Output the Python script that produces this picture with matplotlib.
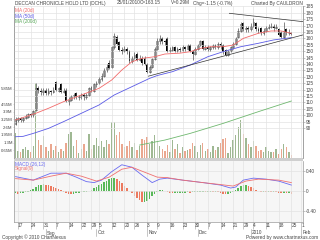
import numpy as np
import pandas as pd
import matplotlib
matplotlib.use('Agg')
import matplotlib.pyplot as plt
from matplotlib.transforms import ScaledTranslation, blended_transform_factory

plt.rcParams['font.family'] = ['Liberation Sans', 'DejaVu Sans']

# ---------------- data ----------------
opens = [93, 96, 98, 96, 98, 99, 101, 100, 104, 121,
         119, 118, 120, 117, 119, 118, 126, 119, 124, 118,
         120, 111, 112, 115, 117, 114, 115, 116, 114, 116,
         122, 119, 124, 125, 128, 131, 135, 141, 138, 153,
         161, 157, 151, 150, 152, 150, 142, 145, 148, 143,
         145, 145, 140, 134, 138, 144, 152, 158, 160, 158,
         160, 150, 151, 153, 150, 152, 151, 153, 152, 155,
         150, 148, 152, 155, 158, 152, 153, 152, 153, 155,
         153, 156, 155, 151, 147, 150, 153, 156, 161, 166,
         172, 167, 168, 167, 170, 172, 167, 168, 164, 166,
         168, 169, 170, 168, 167, 165, 161, 167, 164, 164.3]
highs = [99, 99, 99, 99, 101, 102, 102, 104, 125, 123,
         121, 121, 121, 121, 120, 122, 127, 122, 125, 121,
         121, 114, 116, 117, 118, 116, 117, 117, 117, 122,
         123, 125, 127, 130, 133, 137, 140, 143, 154, 164,
         163, 158, 153, 154, 153, 151, 146, 149, 149, 147,
         146, 146, 141, 139, 145, 153, 160, 163, 161, 159,
         161, 153, 154, 154, 153, 153, 155, 154, 156, 156,
         151, 153, 156, 159, 159, 155, 155, 154, 156, 156,
         157, 157, 156, 152, 151, 154, 157, 161, 168, 173,
         173, 170, 170, 172, 176, 173, 169, 169, 168, 170,
         171, 172, 171, 171, 168, 166, 173, 168, 167, 165]
lows = [92, 95, 95, 95, 97, 98, 99, 99, 103, 117,
        116, 116, 116, 116, 116, 117, 119, 118, 117, 117,
        110, 108, 111, 113, 113, 112, 113, 112, 113, 115,
        118, 118, 122, 124, 127, 130, 134, 136, 137, 152,
        155, 150, 148, 149, 148, 141, 141, 144, 142, 142,
        139, 139, 133, 133, 137, 143, 151, 156, 156, 155,
        149, 149, 150, 149, 149, 149, 150, 150, 151, 149,
        143, 147, 151, 154, 151, 151, 150, 150, 152, 152,
        152, 152, 148, 146, 146, 149, 152, 155, 160, 165,
        166, 165, 165, 166, 169, 166, 164, 163, 163, 165,
        167, 168, 166, 167, 162, 160, 160, 163, 163, 162.5]
closes = [97, 98, 96, 98, 99, 101, 100, 103, 121, 119,
          118, 120, 117, 119, 118, 120, 120, 121, 118, 119,
          111, 112, 115, 116, 114, 115, 116, 114, 116, 121,
          119, 124, 125, 128, 131, 135, 138, 137, 153, 162,
          156, 151, 150, 152, 150, 142, 145, 147, 143, 145,
          141, 140, 134, 138, 144, 152, 158, 160, 158, 157,
          150, 151, 153, 150, 152, 151, 153, 152, 155, 150,
          148, 152, 155, 158, 152, 153, 152, 153, 155, 153,
          156, 154, 149, 147, 150, 153, 156, 160, 166, 171,
          167, 168, 167, 170, 173, 167, 166, 164, 166, 168,
          169, 170, 168, 169, 163, 161, 166, 164, 164.3, 163.15]
volume_m = [2.1, 0.6, 0.5, 0.8, 0.9, 0.7, 0.5, 1.0, 6.3, 1.5,
            1.1, 1.86, 0.9, 0.6, 1.2, 0.7, 1.0, 0.5, 0.8, 0.6,
            1.3, 2.0, 2.2, 1.0, 1.5, 0.4, 0.8, 1.2, 0.6, 2.0,
            0.8, 1.1, 1.7, 1.0, 1.4, 0.9, 1.5, 1.2, 3.0, 3.0,
            1.9, 2.2, 1.2, 0.9, 1.0, 1.4, 0.9, 1.3, 0.7, 1.0,
            1.6, 1.5, 1.8, 1.2, 1.4, 1.9, 1.4, 1.0, 0.8, 0.6,
            1.1, 0.5, 1.5, 0.8, 1.2, 0.4, 0.9, 0.6, 0.7, 0.8,
            1.3, 1.0, 0.5, 1.1, 1.3, 0.6, 0.8, 0.5, 1.0, 0.7,
            0.9, 1.3, 1.6, 1.7, 0.4, 0.9, 1.5, 1.9, 2.6, 3.2,
            2.0, 1.7, 1.2, 0.9, 1.4, 1.0, 0.6, 0.7, 0.5, 0.9,
            0.6, 0.5, 0.5, 0.8, 0.3, 0.8, 1.2, 0.9, 0.5, 0.29]

# moving averages (day index, value)
ma20_idx = [0, 8, 13, 19, 26, 33, 38, 42, 46, 50, 55, 59, 65, 69, 73, 77, 82, 86, 90, 96, 101, 105, 109]
ma20_val = [96.3, 101.5, 105.4, 110.6, 115.8, 121, 127.5, 135.3, 141.8, 144.4, 145.7, 147.8, 148.5,
            149.6, 152.2, 153.5, 153.5, 154.8, 160, 164, 165.8, 165.8, 164]
ma50_idx = [0, 3, 7, 13, 19, 26, 33, 39, 46, 53, 56, 62, 69, 76, 82, 89, 96, 102, 109]
ma50_val = [83.2, 83.5, 85.8, 89.7, 95, 101.5, 108, 115.8, 122.3, 128.8, 131, 134,
            139.2, 145.7, 149.6, 153.5, 156.2, 158.8, 160.6]
ma200_idx = [49, 59, 69, 82, 96, 109]
ma200_val = [76.7, 80.6, 85.8, 93.6, 102.8, 111.1]

# trend lines (day index, price)
upper_idx, upper_val = [84.5, 115.7], [179.6, 172.6]
lower_idx, lower_val = [52.5, 114.5], [130.5, 163.2]

# MACD
macd_idx = [0, 4, 7, 10, 14, 20, 24, 28, 31, 34, 38, 42, 46, 50, 54, 57, 60, 66, 74, 81, 85, 87, 90, 94, 99, 104, 109]
macd_val = [0.29, 0.25, 0.22, 0.28, 0.36, 0.36, 0.28, 0.19, 0.17, 0.22, 0.39, 0.53, 0.48, 0.32, 0.17,
            0.24, 0.26, 0.22, 0.17, 0.12, 0.06, 0.08, 0.22, 0.26, 0.24, 0.20, 0.12]
signal_idx = [0, 7, 14, 20, 26, 32, 37, 42, 46, 51, 56, 60, 66, 74, 81, 86, 91, 96, 104, 109]
signal_val = [0.25, 0.22, 0.30, 0.36, 0.30, 0.20, 0.28, 0.44, 0.48, 0.38, 0.28, 0.27, 0.22, 0.17,
              0.13, 0.10, 0.20, 0.24, 0.22, 0.17]
macd_hist = [-0.05, -0.06, -0.05, -0.04, -0.03, -0.01, 0.02, 0.05, 0.09, 0.12,
             0.13, 0.14, 0.13, 0.12, 0.10, 0.08, 0.06, 0.04, 0.02, -0.02,
             -0.04, -0.06, -0.07, -0.06, -0.05, -0.04, -0.03, -0.02, -0.01, 0.01,
             0.03, 0.06, 0.09, 0.12, 0.15, 0.18, 0.21, 0.24, 0.26, 0.27,
             0.25, 0.21, 0.16, 0.11, 0.06, 0.01, -0.05, -0.10, -0.15, -0.19,
             -0.22, -0.22, -0.20, -0.16, -0.11, -0.06, -0.01, 0.02, 0.02, 0.01,
             -0.02, -0.04, -0.05, -0.05, -0.05, -0.04, -0.04, -0.04, -0.03, -0.04,
             -0.03, -0.02, -0.01, -0.01, -0.01, -0.02, -0.01, -0.01, -0.02, -0.02,
             -0.03, -0.05, -0.06, -0.07, -0.06, -0.04, -0.01, 0.03, 0.07, 0.10,
             0.12, 0.12, 0.11, 0.09, 0.06, 0.03, 0.01, -0.01, -0.01, -0.02,
             -0.01, -0.02, -0.02, -0.03, -0.04, -0.05, -0.04, -0.05, -0.05, -0.06]

holidays = ['2009-09-21', '2009-09-28', '2009-10-02', '2009-10-19', '2009-11-02',
            '2009-12-25', '2009-12-28', '2010-01-26']
month_names = ['Sep', 'Oct', 'Nov', 'Dec', '2010', 'Feb']

# ---------------- axis dates ----------------
days = pd.bdate_range('2009-08-14', '2010-02-01')
days = days[~days.isin(pd.to_datetime(holidays))]
n = len(closes)
x = np.arange(n)

week_key = days.isocalendar().week.values
week_pos = [i for i in range(1, len(days)) if week_key[i] != week_key[i - 1]]
week_lab = [str(days[i].day) for i in week_pos]
month_pos = [i for i in range(1, len(days)) if days[i].month != days[i - 1].month]

o = np.array(opens); c = np.array(closes)
h = np.array(highs); l = np.array(lows)
up = c >= o

# ---------------- figure ----------------
W, H = 320, 240
fig = plt.figure(figsize=(3.2, 2.4), dpi=100)
fig.patch.set_facecolor('white')

def rect(x0, y0, x1, y1):
    return [x0 / W, 1 - y1 / H, (x1 - x0) / W, (y1 - y0) / H]

xlim = (-0.6, 113.6)
grid_c = '#e3e3e3'
spine_c = '#9a9a9a'
txt_c = '#444444'
fs = 3.4

ax = fig.add_axes(rect(14, 6, 303, 158))
axv = ax.twinx()
ax.set_zorder(2)
axv.set_zorder(1)
ax.patch.set_visible(False)
axv.set_facecolor('#fafafa')

# volume
vol_col = np.where(up, '#9fb893', '#eaa78f')
axv.bar(x, volume_m, width=0.55, color=vol_col, linewidth=0)
axv.set_ylim(0, 12.83)
vt = [0.65, 1.3, 1.95, 2.6, 3.25, 3.9, 4.55, 5.85]
axv.set_yticks(vt)
axv.set_yticklabels(['%gM' % v for v in vt])
axv.yaxis.tick_left()

# price grid + candles
ax.set_xlim(*xlim)
ax.set_ylim(66.6, 185.3)
ax.set_yticks(np.arange(90, 186, 5))
ax.yaxis.tick_right()
ax.set_xticks(week_pos)
ax.tick_params(axis='x', length=0, labelbottom=False)
ax.grid(True, color=grid_c, linewidth=0.5)

ax.vlines(x, l, h, color='#555555', linewidth=0.5)
ax.bar(x[up], (c - o)[up], bottom=o[up], width=0.7, facecolor='white',
       edgecolor='#555555', linewidth=0.4)
ax.bar(x[~up], (o - c)[~up], bottom=c[~up], width=0.7, color='black', linewidth=0)

ax.plot(ma20_idx, ma20_val, color='#f26a6a', linewidth=0.6)
ax.plot(ma50_idx, ma50_val, color='#5a5ae6', linewidth=0.6)
ax.plot(ma200_idx, ma200_val, color='#6fb86f', linewidth=0.6)
ax.plot(upper_idx, upper_val, color='#333333', linewidth=0.5)
ax.plot(lower_idx, lower_val, color='#333333', linewidth=0.5)

for a in (ax, axv):
    a.tick_params(axis='y', length=1.2, width=0.4, pad=0.8, labelsize=fs,
                  labelcolor=txt_c, color=spine_c)
    for s in a.spines.values():
        s.set_color(spine_c)
        s.set_linewidth(0.5)
    a.spines['top'].set_visible(False)
    a.spines['bottom'].set_visible(False)
axv.tick_params(axis='y', length=0.6, pad=0.3, labelsize=3.1)

ax.text(0.004, 0.985, 'MA (20d)', color='#f26a6a', fontsize=fs, transform=ax.transAxes, va='top')
ax.text(0.004, 0.95, 'MA (50d)', color='#5a5ae6', fontsize=fs, transform=ax.transAxes, va='top')
ax.text(0.004, 0.915, 'MA (200d)', color='#5aa85a', fontsize=fs, transform=ax.transAxes, va='top')

# separator band
fig.add_artist(plt.Rectangle((14 / W, 1 - 160.5 / H), 289 / W, 2.5 / H,
                             transform=fig.transFigure, color='#cfcfcf', linewidth=0))

# ---------------- MACD panel ----------------
am = fig.add_axes(rect(14, 161, 303, 222))
am.set_facecolor('#f6f6f6')
am.set_xlim(*xlim)
am.set_ylim(-0.626, 0.606)
hist = np.array(macd_hist)
rising = np.r_[True, np.diff(hist) >= 0]
am.bar(x, hist, width=0.6, color=np.where(rising, '#58b858', '#ec7a5f'), linewidth=0)
am.plot(macd_idx, macd_val, color='#6a6af0', linewidth=0.6)
am.plot(signal_idx, signal_val, color='#f07070', linewidth=0.6)
am.set_yticks([0.4, 0, -0.4])
am.set_yticklabels(['0.40', '0', '-0.40'])
am.yaxis.tick_right()
am.grid(True, color=grid_c, linewidth=0.5)
am.set_xticks(week_pos)
am.set_xticklabels(week_lab, ha='left')
off = ScaledTranslation(1.2 / 100, 0, fig.dpi_scale_trans)
for lab in am.get_xticklabels():
    lab.set_transform(lab.get_transform() + off)
am.tick_params(axis='x', length=5, width=0.4, pad=-4.2, labelsize=fs,
               labelcolor=txt_c, color=spine_c)
am.tick_params(axis='y', length=1.2, width=0.4, pad=0.8, labelsize=fs,
               labelcolor=txt_c, color=spine_c)
for s in am.spines.values():
    s.set_color(spine_c)
    s.set_linewidth(0.5)
am.spines['top'].set_visible(False)
am.text(0.004, 0.985, 'MACD (26,12)', color='#6a6af0', fontsize=fs, transform=am.transAxes, va='top')
am.text(0.004, 0.915, 'Signal(9)', color='#f07070', fontsize=fs, transform=am.transAxes, va='top')

# month row
tb = blended_transform_factory(am.transData, fig.transFigure)
for p, name in zip(month_pos, month_names):
    am.plot([p, p], [1 - 229 / H, 1 - 236 / H], transform=tb, color=spine_c,
            linewidth=0.4, clip_on=False)
    am.text(p, 1 - 233 / H, name, transform=tb + off, fontsize=fs, color=txt_c,
            va='center', ha='left')

# ---------------- header / footer ----------------
hy = 1 - 3 / H
fig.text(15 / W, hy, 'DECCAN CHRONICLE HOLD LTD (DCHL)', fontsize=fs, color=txt_c, va='center')
fig.text(117 / W, hy, '25/01/2010', fontsize=fs, color=txt_c, va='center')
fig.text(140 / W, hy, 'C=163.15', fontsize=fs, color=txt_c, va='center')
fig.text(171 / W, hy, 'V=0.29M', fontsize=fs, color=txt_c, va='center')
fig.text(193 / W, hy, 'Chg=-1.15 (-0.7%)', fontsize=fs, color=txt_c, va='center')
fig.text(303 / W, hy, 'Charted By CAULDRON', fontsize=fs, color=txt_c, va='center', ha='right')
fig.text(2 / W, 1 - 237 / H, 'Copyright \u00a9 2010 ChartNexus', fontsize=fs, color=txt_c, va='center')
fig.text(318 / W, 1 - 237 / H, 'Powered by www.chartnexus.com', fontsize=fs, color=txt_c,
         va='center', ha='right')

fig.savefig('out.png', dpi=100)
